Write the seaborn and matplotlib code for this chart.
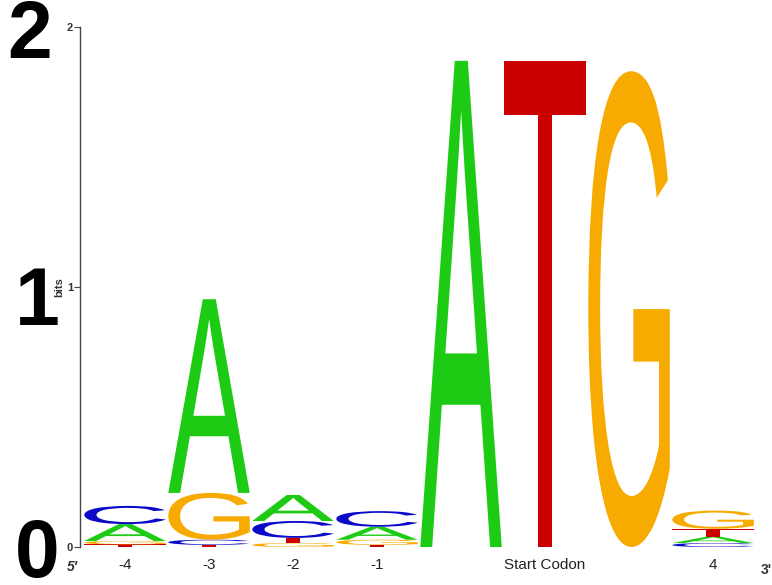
import seaborn as sns
import matplotlib.pyplot as plt
from matplotlib.textpath import TextPath
from matplotlib.patches import PathPatch
from matplotlib.font_manager import FontProperties
import matplotlib.transforms as mtransforms

# positions of the motif and their tick labels
positions = [0, 1, 2, 3, 4, 5, 6, 7]
tick_labels = ['-4', '-3', '-2', '-1', '', 'Start Codon', '', '4']

# information content (bits) of each base at each position
bits_A = [0.065, 0.745, 0.100, 0.050, 1.87, 0.0, 0.0, 0.025]
bits_C = [0.070, 0.02, 0.065, 0.060, 0.0, 0.0, 0.0, 0.015]
bits_G = [0.013, 0.18, 0.015, 0.020, 0.0, 0.0, 1.83, 0.070]
bits_T = [0.010, 0.008, 0.020, 0.008, 0.0, 1.87, 0.0, 0.030]

colors = {'A': '#1ecb14', 'C': '#0a0ac8', 'G': '#f7ab00', 'T': '#cc0000'}

sns.set_style('white')
plt.rcParams['font.family'] = ['Liberation Sans', 'DejaVu Sans']

fig = plt.figure(figsize=(7.72, 5.85), dpi=100)
ax = fig.add_axes([80 / 772, 38 / 585, 692 / 772, 520 / 585])

fp = FontProperties(family='Liberation Sans', weight='normal')


def draw_letter(ax, letter, x, y0, h, width=0.97):
    tp = TextPath((0, 0), letter, size=1, prop=fp)
    bb = tp.get_extents()
    t = (mtransforms.Affine2D()
         .translate(-bb.x0, -bb.y0)
         .scale(width / bb.width, h / bb.height)
         .translate(x - width / 2, y0))
    ax.add_patch(PathPatch(tp, transform=t + ax.transData,
                           facecolor=colors[letter], edgecolor='none'))


table = {'A': bits_A, 'C': bits_C, 'G': bits_G, 'T': bits_T}
for i, pos in enumerate(positions):
    col = sorted([(table[b][i], b) for b in 'ACGT'])
    y = 0.0
    for h, b in col:
        if h > 0:
            draw_letter(ax, b, pos, y, h)
            y += h

ax.set_xlim(-0.536, 7.702)
ax.set_ylim(0, 2)
ax.set_yticks([0, 1, 2])
ax.set_yticklabels(['0', '1', '2'], fontsize=8, color='#333333',
                   fontweight='bold')
ax.set_xticks(positions)
ax.set_xticklabels(tick_labels, fontsize=11, color='#222222')
ax.tick_params(axis='x', length=0, pad=8)
ax.tick_params(axis='y', left=True, length=4, width=0.8, pad=1, color='#444444')
ax.set_ylabel('bits', fontsize=8, color='#333333', labelpad=2,
              fontweight='bold')
sns.despine(ax=ax, bottom=True)
ax.spines['left'].set_color('#444444')
ax.spines['left'].set_linewidth(1.0)

fig.text(72 / 772, 1 - 567 / 585, "5'", fontsize=10, ha='center', va='center',
         color='#333333', style='italic', fontweight='bold')
fig.text(766 / 772, 1 - 570 / 585, "3'", fontsize=10, ha='center', va='center',
         color='#333333', fontweight='bold')

# large axis annotations
for txt, xp, yp in [('2', 30, 37), ('1', 37, 304), ('0', 37, 556)]:
    fig.text(xp / 772, 1 - yp / 585, txt, fontsize=58, fontweight='bold',
             ha='center', va='center', color='black')

fig.savefig('out.png', dpi=100)
